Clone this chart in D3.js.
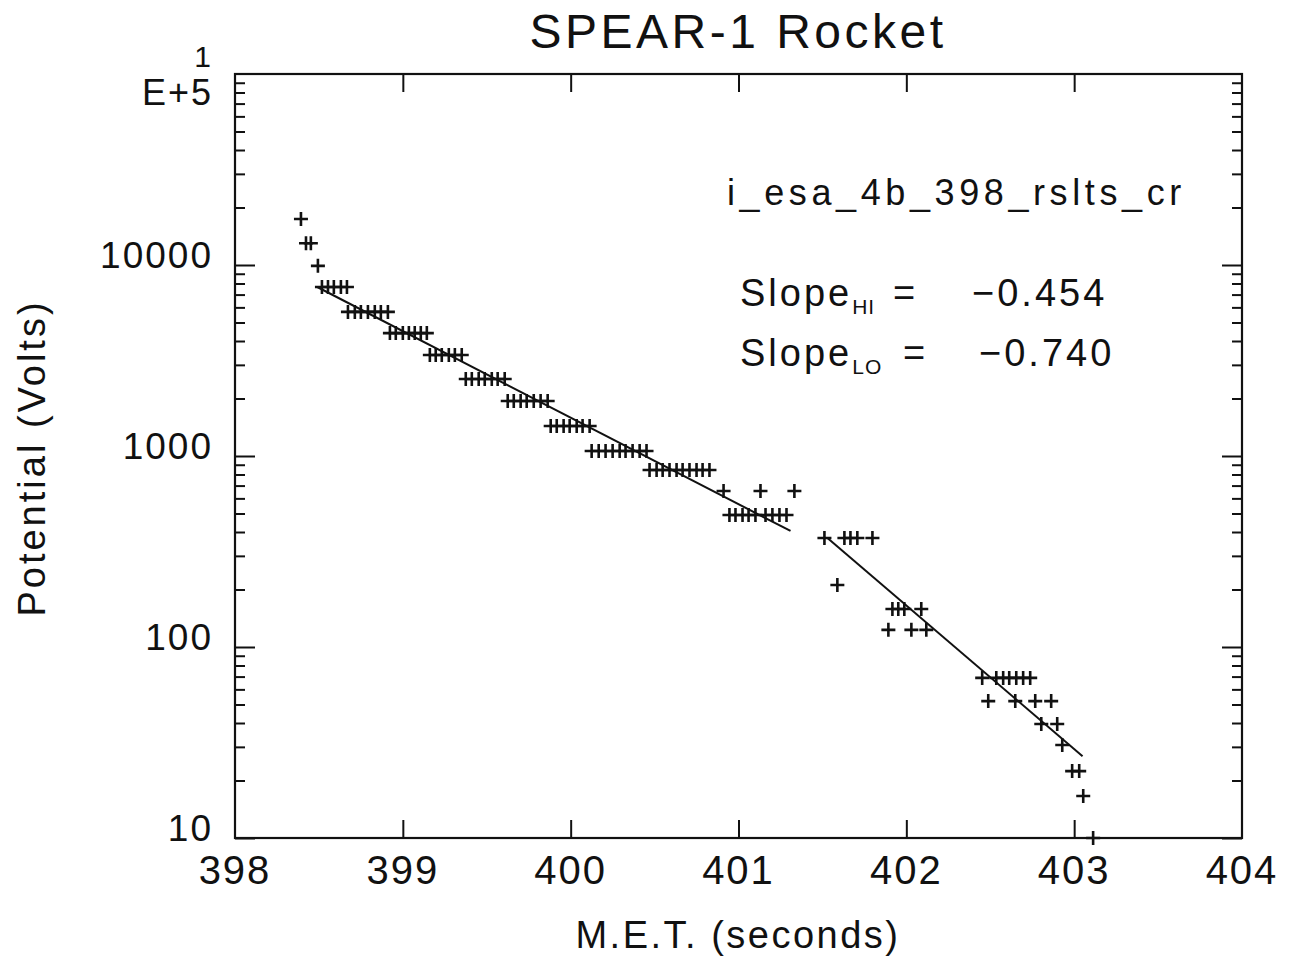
<!DOCTYPE html>
<html>
<head>
<meta charset="utf-8">
<script src="https://cdn.jsdelivr.net/npm/d3@7"></script>
<style>
  body { margin: 0; background: #fff; }
  svg text { font-family: "Liberation Sans", "DejaVu Sans", sans-serif; fill: #111; }
</style>
</head>
<body>
<svg id="chart" width="1295" height="962"></svg>
<script>
// energy levels (Volts) seen by the ESA and the times (s) at which each was hit
var levelV = [17400, 13000, 9900, 7670, 5680, 4400, 3380, 2530, 1942, 1436, 1062, 845, 656, 491,
              372, 211, 158, 123, 68.9, 52.1, 39.5, 30.7, 22.4, 16.6, 10];
var levelT = [
  [398.393],
  [398.423, 398.452],
  [398.494],
  [398.518, 398.554, 398.589, 398.631, 398.667],
  [398.673, 398.714, 398.750, 398.792, 398.833, 398.869, 398.911],
  [398.923, 398.958, 399.000, 399.036, 399.071, 399.107, 399.143],
  [399.161, 399.196, 399.232, 399.274, 399.310, 399.351],
  [399.375, 399.411, 399.452, 399.488, 399.530, 399.565, 399.607],
  [399.625, 399.661, 399.702, 399.738, 399.780, 399.821, 399.863],
  [399.881, 399.917, 399.958, 399.994, 400.036, 400.071, 400.113],
  [400.125, 400.167, 400.208, 400.250, 400.292, 400.327, 400.369, 400.411, 400.452],
  [400.470, 400.512, 400.548, 400.589, 400.631, 400.667, 400.708, 400.750, 400.786, 400.827],
  [400.911, 401.131, 401.333],
  [400.946, 400.982, 401.024, 401.060, 401.101, 401.161, 401.202, 401.244, 401.286],
  [401.512, 401.631, 401.667, 401.708, 401.798],
  [401.589],
  [401.917, 401.952, 401.988, 402.089],
  [401.893, 402.030, 402.119],
  [402.452, 402.536, 402.577, 402.613, 402.655, 402.696, 402.738],
  [402.488, 402.649, 402.768, 402.863],
  [402.804, 402.899],
  [402.929],
  [402.988, 403.030],
  [403.054],
  [403.113]
];
// fitted lines, end points [t, V]
var fitHI = [[398.49, 7670], [401.31, 405]];
var fitLO = [[401.53, 372], [403.05, 26.8]];

var xTicks = [398, 399, 400, 401, 402, 403, 404];
var yMajor = [10, 100, 1000, 10000];
var yLabels = ["10", "100", "1000", "10000"];

var svg = d3.select("#chart");
var pL = 235, pR = 1242, pT = 74, pB = 838;

var x = d3.scaleLinear().domain([398, 404]).range([pL, pR]);
var y = d3.scaleLog().domain([10, 1e5]).range([pB, pT]);

var minor = [];
[10, 100, 1000, 10000].forEach(function(d) {
  for (var k = 2; k <= 9; k++) minor.push(d * k);
});

var ax = svg.append("g").attr("class", "axes")
    .attr("stroke", "#111").attr("fill", "none");

// y ticks, both sides, pointing into the plot
ax.append("g").attr("transform", "translate(" + pL + ",0)")
    .call(d3.axisLeft(y).tickValues(yMajor).tickSize(-20).tickFormat(""));
ax.append("g").attr("transform", "translate(" + pL + ",0)")
    .call(d3.axisLeft(y).tickValues(minor).tickSize(-10).tickFormat(""));
ax.append("g").attr("transform", "translate(" + pR + ",0)")
    .call(d3.axisRight(y).tickValues(yMajor).tickSize(-20).tickFormat(""));
ax.append("g").attr("transform", "translate(" + pR + ",0)")
    .call(d3.axisRight(y).tickValues(minor).tickSize(-10).tickFormat(""));

// x ticks, top and bottom
var inner = xTicks.slice(1, -1);
ax.append("g").attr("transform", "translate(0," + pB + ")")
    .call(d3.axisBottom(x).tickValues(inner).tickSize(-18).tickFormat(""));
ax.append("g").attr("transform", "translate(0," + pT + ")")
    .call(d3.axisTop(x).tickValues(inner).tickSize(-18).tickFormat(""));

ax.selectAll(".domain").remove();
ax.selectAll("line").attr("stroke", "#111").attr("stroke-width", 2);

svg.append("rect")
    .attr("x", pL).attr("y", pT)
    .attr("width", pR - pL).attr("height", pB - pT)
    .attr("fill", "none").attr("stroke", "#111").attr("stroke-width", 2.2);

// tick labels
svg.append("g").selectAll("text")
    .data(xTicks)
    .enter().append("text")
    .attr("x", function(d) { return x(d); })
    .attr("y", 884)
    .attr("text-anchor", "middle")
    .attr("font-size", 40)
    .attr("letter-spacing", 2)
    .text(function(d) { return d; });

svg.append("g").selectAll("text")
    .data(yMajor)
    .enter().append("text")
    .attr("x", 213)
    .attr("y", function(d) { return y(d) + 3; })
    .attr("text-anchor", "end")
    .attr("font-size", 37)
    .attr("letter-spacing", 2)
    .text(function(d, i) { return yLabels[i]; });

svg.append("text").attr("x", 211).attr("y", 67).attr("text-anchor", "end")
    .attr("font-size", 30).text("1");
svg.append("text").attr("x", 213).attr("y", 105).attr("text-anchor", "end")
    .attr("font-size", 36).attr("letter-spacing", 2).text("E+5");

// titles
svg.append("text").attr("x", 738).attr("y", 48).attr("text-anchor", "middle")
    .attr("font-size", 48).attr("letter-spacing", 3.5).text("SPEAR-1 Rocket");
svg.append("text").attr("x", 738).attr("y", 948).attr("text-anchor", "middle")
    .attr("font-size", 38).attr("letter-spacing", 2.5).text("M.E.T. (seconds)");
svg.append("text")
    .attr("transform", "translate(45,458) rotate(-90)")
    .attr("text-anchor", "middle")
    .attr("font-size", 38).attr("letter-spacing", 3).text("Potential (Volts)");

// annotation
svg.append("text").attr("x", 727).attr("y", 205)
    .attr("font-size", 36).attr("letter-spacing", 4.6).text("i_esa_4b_398_rslts_cr");

var s1 = svg.append("text").attr("x", 740).attr("y", 306).attr("font-size", 38).attr("letter-spacing", 3);
s1.append("tspan").text("Slope");
s1.append("tspan").attr("font-size", 21).attr("dy", 8).attr("letter-spacing", 1).text("HI");
s1.append("tspan").attr("x", 893).attr("dy", -8).text("=");
s1.append("tspan").attr("x", 972).text("\u22120.454");

var s2 = svg.append("text").attr("x", 740).attr("y", 366).attr("font-size", 38).attr("letter-spacing", 3);
s2.append("tspan").text("Slope");
s2.append("tspan").attr("font-size", 21).attr("dy", 8).attr("letter-spacing", 1).text("LO");
s2.append("tspan").attr("x", 903).attr("dy", -8).text("=");
s2.append("tspan").attr("x", 979).text("\u22120.740");

// fit lines
var line = d3.line()
    .x(function(d) { return x(d[0]); })
    .y(function(d) { return y(d[1]); });

svg.append("g").selectAll("path")
    .data([fitHI, fitLO])
    .enter().append("path")
    .attr("d", line)
    .attr("fill", "none").attr("stroke", "#111").attr("stroke-width", 2);

// data points as plus markers
var pts = [];
levelT.forEach(function(ts, i) {
  ts.forEach(function(t) { pts.push({t: t, v: levelV[i]}); });
});

svg.append("g").selectAll("path")
    .data(pts)
    .enter().append("path")
    .attr("transform", function(d) { return "translate(" + x(d.t) + "," + y(d.v) + ")"; })
    .attr("d", "M-7,0H7M0,-7V7")
    .attr("fill", "none").attr("stroke", "#111").attr("stroke-width", 2.6);
</script>
</body>
</html>
